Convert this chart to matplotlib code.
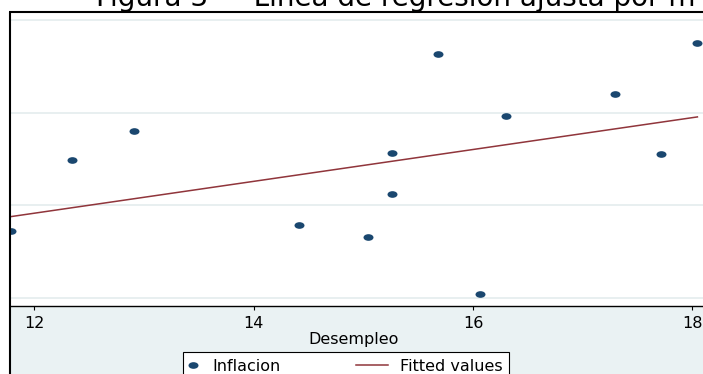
import numpy as np
import matplotlib
matplotlib.use("Agg")
import matplotlib.pyplot as plt
from matplotlib.path import Path
from matplotlib.lines import Line2D
from matplotlib.patches import Rectangle
from matplotlib.legend_handler import HandlerLine2D

plt.rcParams['font.family'] = ['DejaVu Sans']

# ---- data ----
desempleo = [11.79, 12.35, 12.91, 14.41, 15.04, 15.26, 15.26, 15.68, 16.06, 16.30, 17.29, 17.71, 18.045]
inflacion = [3.45, 4.99, 5.60, 3.58, 3.32, 5.13, 4.25, 7.27, 2.09, 5.93, 6.40, 5.12, 7.50]
fit_x = [11.70, 18.045]
fit_y = [3.727, 5.911]
xticks = [12, 14, 16, 18]
ygrid = [2, 4, 6, 8]
title = "Figura 3 — Línea de regresión ajusta por m"
xlabel = "Desempleo"
legend_labels = ["Inflacion", "Fitted values"]

NAVY = "#1A476F"
MAROON = "#90353B"
BG = "#EAF2F3"
GRID = "#E4ECEE"

W, H = 703, 374
def fx(px):
    return px / W
def fy(py):
    return 1 - py / H

fig = plt.figure(figsize=(W / 100, H / 100), dpi=100, facecolor="white")

# light background of the graph region below the plot
fig.add_artist(Rectangle((fx(10), 0), 1 - fx(10), fy(306), transform=fig.transFigure,
                         facecolor=BG, edgecolor="none", zorder=-1))

ax = fig.add_axes([fx(10), fy(306), fx(703) - fx(10), fy(12.7) - fy(306)])
ax.set_facecolor("white")
ax.set_xlim(11.781, 18.096)
ax.set_ylim(1.827, 8.162)

circ = Path.unit_circle()
ell = Path(circ.vertices * np.array([1.5, 1.0]), circ.codes)

ax.plot(desempleo, inflacion, linestyle="none", marker=ell, markersize=7.2,
        color=NAVY, markeredgewidth=0, zorder=3, label=legend_labels[0])
ax.plot(fit_x, fit_y, color=MAROON, lw=1.1, zorder=2, label=legend_labels[1])

ax.set_yticks(ygrid)
ax.yaxis.grid(True, color=GRID, lw=1.2)
ax.set_axisbelow(True)
ax.tick_params(axis="y", length=0, labelleft=False)
ax.set_xticks(xticks)
ax.set_xticklabels([str(t) for t in xticks])
ax.tick_params(axis="x", direction="out", length=3, width=0.8, color="black",
               labelsize=11.5, pad=4.5, labelcolor="black")
for s in ["left", "top", "right"]:
    ax.spines[s].set_visible(False)
ax.spines["bottom"].set_color("black")
ax.spines["bottom"].set_linewidth(1.0)

ax.set_xlabel(xlabel, fontsize=11.5, color="black")
ax.xaxis.label.set_va("center")
ax.xaxis.set_label_coords((354 - 10) / 693, (306 - 339.5) / 293.3)


class MarkerLeft(HandlerLine2D):
    def get_xdata(self, legend, xdescent, ydescent, width, height, fontsize):
        c = -xdescent + 0.3 * width
        xd = np.array([c - 1.0, c + 1.0])
        return xd, xd


class LongLine(HandlerLine2D):
    def get_xdata(self, legend, xdescent, ydescent, width, height, fontsize):
        xd = np.array([-xdescent + width - 23.0, -xdescent + width])
        return xd, xd


h1, h2 = ax.get_legend_handles_labels()[0]
fs = 11.5
leg = ax.legend([h1, h2], legend_labels, loc="upper left",
                bbox_to_anchor=(fx(183), fy(351.7)), bbox_transform=fig.transFigure,
                borderaxespad=0, ncol=2, fontsize=fs, frameon=True, fancybox=False,
                borderpad=0.44, handlelength=0.63, handletextpad=0.75,
                columnspacing=6.1, numpoints=1,
                handler_map={h1: MarkerLeft(), h2: LongLine()})
fr = leg.get_frame()
fr.set_edgecolor("black")
fr.set_facecolor("white")
fr.set_alpha(1)
fr.set_linewidth(0.8)

# outer black frame (top and left edges visible)
fig.add_artist(Line2D([fx(9.5), fx(9.5)], [0, fy(11.7)], transform=fig.transFigure,
                      color="black", lw=1.5, zorder=10, solid_capstyle="butt"))
fig.add_artist(Line2D([fx(8.8), 1], [fy(11.7), fy(11.7)], transform=fig.transFigure,
                      color="black", lw=1.5, zorder=10, solid_capstyle="butt"))

# title (partly cut by the top edge)
fig.text(fx(96), fy(6.5), title, fontsize=20, ha="left", va="baseline", color="black")

fig.savefig("out.png", dpi=100, facecolor="white")
